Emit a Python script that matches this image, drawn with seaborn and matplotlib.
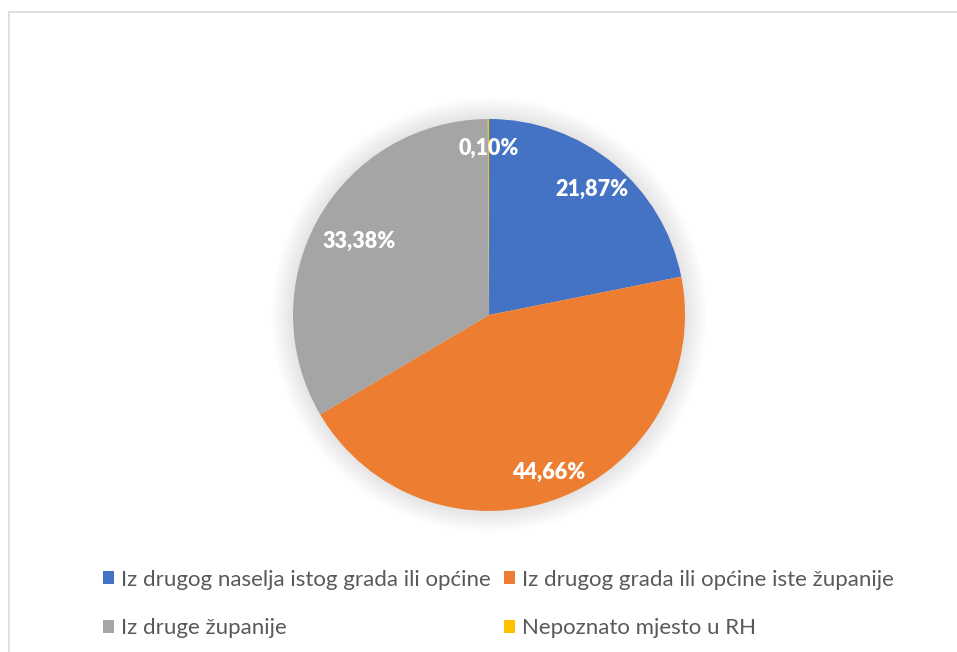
import numpy as np
import matplotlib
matplotlib.use("Agg")
import matplotlib.pyplot as plt
import seaborn as sns
from matplotlib.patches import Circle, Rectangle, Patch

# Podaci
categories = [
    "Iz drugog naselja istog grada ili općine",
    "Iz drugog grada ili općine iste županije",
    "Iz druge županije",
    "Nepoznato mjesto u RH",
]
shares = [21.87, 44.66, 33.38, 0.10]
colors = ["#4472C4", "#ED7D31", "#A5A5A5", "#FFC000"]

# udaljenost natpisa od središta (udio polumjera)
label_dist = [0.83, 0.86, 0.76, 0.85]

sns.set_theme(style="white")
plt.rcParams["font.family"] = ["Lato", "DejaVu Sans"]

fig = plt.figure(figsize=(9.57, 6.52), dpi=100)
fig.patch.set_facecolor("white")

# okvir grafikona
fig.add_artist(Rectangle((9 / 957, -0.02), 1.0, 640 / 652 + 0.02,
                         transform=fig.transFigure, fill=False,
                         edgecolor="#d9d9d9", linewidth=1.2))

ax = fig.add_axes([0.3062, 0.2163, 0.4096, 0.6012])

# meka sjena oko kruga
for r in np.linspace(1.0, 1.11, 14):
    ax.add_patch(Circle((0, 0), r, color="black", alpha=0.007,
                        linewidth=0, zorder=0, clip_on=False))

wedges, _ = ax.pie(shares, colors=colors, startangle=90, counterclock=False,
                   radius=1, wedgeprops=dict(linewidth=0))

for w, s, d in zip(wedges, shares, label_dist):
    ang = np.deg2rad((w.theta1 + w.theta2) / 2)
    ax.text(d * np.cos(ang), d * np.sin(ang), f"{s:.2f}%".replace(".", ","),
            ha="center", va="center", color="white", fontsize=15.5,
            fontweight="heavy")

ax.set_xlim(-1, 1)
ax.set_ylim(-1, 1)
ax.set_aspect("equal")
ax.axis("off")

# legenda: redoslijed po redovima
handles = [Patch(facecolor=c, edgecolor="none") for c in colors]
order = [0, 2, 1, 3]
fig.legend([handles[i] for i in order], [categories[i] for i in order],
           ncol=2, loc="upper left", bbox_to_anchor=(0.1076, 0.1265),
           frameon=False, fontsize=16, labelcolor="#595959",
           handlelength=0.5, handleheight=0.5, handletextpad=0.3,
           columnspacing=0.6, labelspacing=1.3, borderpad=0,
           borderaxespad=0)

fig.savefig("out.png", dpi=100)
